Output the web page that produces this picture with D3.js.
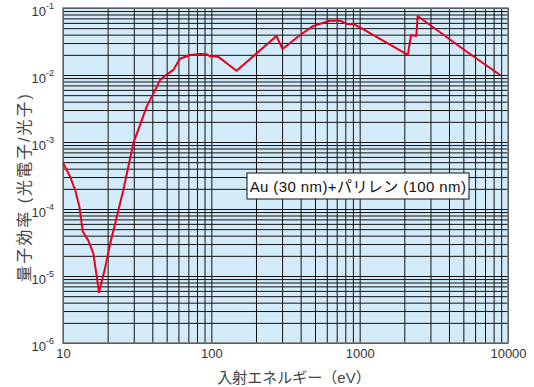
<!DOCTYPE html>
<html>
<head>
<meta charset="utf-8">
<script src="https://cdn.jsdelivr.net/npm/d3@7"></script>
<style>
  body { margin: 0; background: #fff; }
  text { font-family: "Liberation Sans", "Noto Sans CJK JP", sans-serif; }
</style>
</head>
<body>
<svg id="chart" width="534" height="387"></svg>
<script>
// incident energy (eV) and quantum efficiency
var energy = [10, 11.2, 12.1, 12.9, 13.6, 14.8, 16, 17.5, 19.2, 20.7, 25.5, 29.8, 33.1, 36.7, 40.7, 45.1, 48.7, 55.5, 58.4, 61.5, 71.9, 84, 93, 98, 111, 148, 275, 302, 397, 487, 627, 737, 822, 905, 1005, 2112, 2220, 2410, 2460, 5000, 5550, 8850];
var qe     = [4.9e-4, 3.0e-4, 1.9e-4, 1.08e-4, 4.6e-5, 3.4e-5, 2.2e-5, 5.7e-6, 1.3e-5, 2.9e-5, 1.9e-4, 9.6e-4, 1.8e-3, 3.4e-3, 5.3e-3, 8.4e-3, 9.7e-3, 1.19e-2, 1.45e-2, 1.75e-2, 1.99e-2, 2.06e-2, 2.04e-2, 1.9e-2, 1.88e-2, 1.16e-2, 3.82e-2, 2.44e-2, 3.95e-2, 5.4e-2, 6.46e-2, 6.46e-2, 5.77e-2, 5.77e-2, 5.15e-2, 1.99e-2, 3.95e-2, 3.82e-2, 7.6e-2, 2.42e-2, 2.06e-2, 1.0e-2];
var xTicks = [10, 100, 1000, 10000];
var yExp   = [-1, -2, -3, -4, -5, -6];
var label  = "Au (30 nm)+パリレン (100 nm)";

var svg = d3.select("#chart");
var margin = {left: 63, top: 8, right: 26, bottom: 44};
var width = 534 - margin.left - margin.right,
    height = 387 - margin.top - margin.bottom;

var x = d3.scaleLog().domain([10, 10000]).range([0, width]);
var y = d3.scaleLog().domain([1e-6, 1e-1]).range([height, 0]);

var g = svg.append("g").attr("transform", "translate(" + margin.left + "," + margin.top + ")");

// background
g.append("rect").attr("width", width).attr("height", height).attr("fill", "#d3ebf8");

// grid lines (all ticks of the log scales)
g.append("g")
  .attr("transform", "translate(0," + height + ")")
  .call(d3.axisBottom(x).ticks(10).tickSize(-height).tickFormat(""))
  .call(function(s) {
    s.select(".domain").remove();
    s.selectAll("line").attr("stroke", "#111").attr("stroke-width", 1);
  });
g.append("g")
  .call(d3.axisLeft(y).ticks(10).tickSize(-width).tickFormat(""))
  .call(function(s) {
    s.select(".domain").remove();
    s.selectAll("line").attr("stroke", "#111").attr("stroke-width", 1);
  });

// frame
g.append("rect").attr("width", width).attr("height", height)
  .attr("fill", "none").attr("stroke", "#777").attr("stroke-width", 1.5);

// x tick labels
var xa = g.append("g")
  .attr("transform", "translate(0," + height + ")")
  .call(d3.axisBottom(x).tickValues(xTicks).tickSize(0).tickPadding(6).tickFormat(d3.format("d")));
xa.select(".domain").remove();
xa.selectAll("text").attr("font-size", 13).attr("fill", "#333");

// y tick labels with superscript exponent
var ya = g.append("g")
  .call(d3.axisLeft(y).tickValues(yExp.map(function(e) { return Math.pow(10, e); }))
    .tickSize(0).tickPadding(9).tickFormat(""));
ya.select(".domain").remove();
ya.selectAll("text")
  .attr("font-size", 13).attr("fill", "#333").attr("dy", "0.55em")
  .each(function(d) {
    var t = d3.select(this);
    t.append("tspan").text("10");
    t.append("tspan").attr("font-size", 9).attr("dy", "-0.7em").text(Math.round(Math.log10(d)));
  });

// curve
var line = d3.line()
  .x(function(d) { return x(d[0]); })
  .y(function(d) { return y(d[1]); });
g.append("path")
  .datum(d3.zip(energy, qe))
  .attr("d", line)
  .attr("fill", "none")
  .attr("stroke", "#e60020")
  .attr("stroke-width", 2)
  .attr("stroke-linejoin", "round");

// label box
var lb = g.append("g").attr("transform", "translate(" + (247 - margin.left) + "," + (173 - margin.top) + ")");
lb.append("rect").attr("width", 222).attr("height", 26)
  .attr("fill", "#fff").attr("stroke", "#111").attr("stroke-width", 1);
lb.append("text").attr("x", 111).attr("y", 18.5).attr("text-anchor", "middle")
  .attr("font-size", 15).attr("letter-spacing", 0.4).attr("fill", "#111").text(label);

// axis titles
svg.append("text").attr("x", 294).attr("y", 383)
  .attr("text-anchor", "middle").attr("font-size", 15).attr("fill", "#444")
  .text("入射エネルギー（eV）");
svg.append("text")
  .attr("transform", "translate(30,187) rotate(-90)")
  .attr("text-anchor", "middle").attr("font-size", 16).attr("letter-spacing", 2)
  .attr("fill", "#444")
  .text("量子効率 (光電子/光子)");
</script>
</body>
</html>
